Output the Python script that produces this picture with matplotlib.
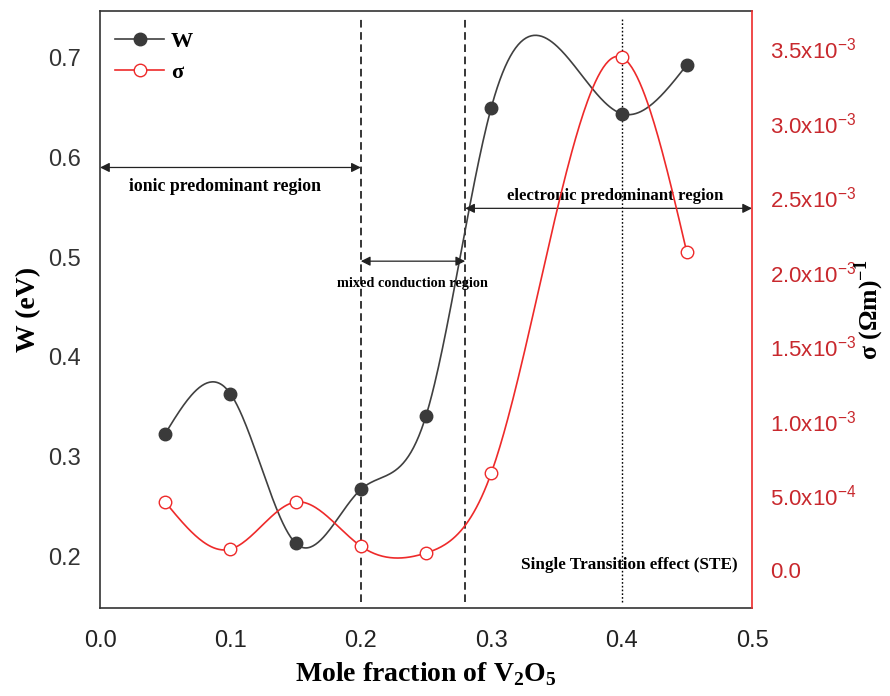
import numpy as np
import matplotlib
matplotlib.use("Agg")
import matplotlib.pyplot as plt

# ---- data ----
x_frac = [0.05, 0.10, 0.15, 0.20, 0.25, 0.30, 0.40, 0.45]
W_eV = [0.323, 0.363, 0.213, 0.267, 0.341, 0.650, 0.644, 0.693]
sigma = [0.456e-3, 0.140e-3, 0.456e-3, 0.160e-3, 0.114e-3, 0.650e-3, 3.44e-3, 2.13e-3]

x_ticks = [0.0, 0.1, 0.2, 0.3, 0.4, 0.5]
x_ticklabels = ["0.0", "0.1", "0.2", "0.3", "0.4", "0.5"]
w_ticks = [0.2, 0.3, 0.4, 0.5, 0.6, 0.7]
w_ticklabels = ["0.2", "0.3", "0.4", "0.5", "0.6", "0.7"]
s_ticks = [0.0, 0.5e-3, 1.0e-3, 1.5e-3, 2.0e-3, 2.5e-3, 3.0e-3, 3.5e-3]
s_ticklabels = ["0.0", "5.0x10$^{\\mathregular{-4}}$", "1.0x10$^{\\mathregular{-3}}$",
                "1.5x10$^{\\mathregular{-3}}$", "2.0x10$^{\\mathregular{-3}}$",
                "2.5x10$^{\\mathregular{-3}}$", "3.0x10$^{\\mathregular{-3}}$",
                "3.5x10$^{\\mathregular{-3}}$"]

region_bounds = [0.0, 0.2, 0.28, 0.5]
ste_x = 0.4


def natural_spline(x, y, n=400):
    x = np.asarray(x, float)
    y = np.asarray(y, float)
    m = len(x)
    h = np.diff(x)
    A = np.zeros((m, m))
    r = np.zeros(m)
    A[0, 0] = 1
    A[-1, -1] = 1
    for i in range(1, m - 1):
        A[i, i - 1] = h[i - 1]
        A[i, i] = 2 * (h[i - 1] + h[i])
        A[i, i + 1] = h[i]
        r[i] = 3 * ((y[i + 1] - y[i]) / h[i] - (y[i] - y[i - 1]) / h[i - 1])
    c = np.linalg.solve(A, r)
    b = (y[1:] - y[:-1]) / h - h * (2 * c[:-1] + c[1:]) / 3
    d = (c[1:] - c[:-1]) / (3 * h)
    xs = np.linspace(x[0], x[-1], n)
    idx = np.clip(np.searchsorted(x, xs) - 1, 0, m - 2)
    dx = xs - x[idx]
    ys = y[idx] + b[idx] * dx + c[idx] * dx ** 2 + d[idx] * dx ** 3
    return xs, ys


plt.rcParams['font.family'] = ['Liberation Sans', 'DejaVu Sans']
serif = ['Liberation Serif', 'DejaVu Serif']

fig = plt.figure(figsize=(8.9, 6.96), dpi=100)
ax = fig.add_axes([0.1124, 0.1264, 0.7326, 0.8578])
ax2 = ax.twinx()

gray = '#404040'
red = '#ee2a2a'
tick_red = '#c8282d'

# W curve
xs, ys = natural_spline(x_frac, W_eV)
ax.plot(xs, ys, color=gray, lw=1.2, zorder=3)
ax.plot(x_frac, W_eV, 'o', color='#3a3a3a', ms=9, zorder=4)

# sigma curve
xs2, ys2 = natural_spline(x_frac, sigma)
ax2.plot(xs2, ys2, color=red, lw=1.2, zorder=3)
ax2.plot(x_frac, sigma, 'o', mfc='white', mec=red, mew=1.0, ms=9, zorder=4)

ax.set_xlim(0, 0.5)
ax.set_ylim(0.148, 0.747)
ax2.set_ylim(-0.255e-3, 3.75e-3)

ax.set_xticks(x_ticks)
ax.set_xticklabels(x_ticklabels)
ax.set_yticks(w_ticks)
ax.set_yticklabels(w_ticklabels)
ax2.set_yticks(s_ticks)
ax2.set_yticklabels(s_ticklabels)

ax.tick_params(axis='x', length=0, pad=16, labelsize=17, labelcolor='#222222')
ax.tick_params(axis='y', length=0, pad=14, labelsize=17, labelcolor='#333333')
ax2.tick_params(axis='y', length=0, pad=13, labelsize=16, labelcolor=tick_red)

for s in ['left', 'bottom', 'top']:
    ax.spines[s].set_color('#333333')
    ax.spines[s].set_linewidth(1.2)
for s in ['left', 'bottom', 'top']:
    ax2.spines[s].set_visible(False)
ax2.spines['right'].set_color(red)
ax2.spines['right'].set_linewidth(1.2)
ax.spines['right'].set_visible(False)

ax.set_xlabel('Mole fraction of V$_\\mathregular{2}$O$_\\mathregular{5}$', family=serif,
              fontweight='bold', fontsize=20, labelpad=6)
ax.set_ylabel('W (eV)', family=serif, fontweight='bold', fontsize=20, labelpad=5)
ax2.set_ylabel('σ (Ωm)$^{\\mathregular{-1}}$', family=serif, fontweight='bold',
               fontsize=18.5, labelpad=-3)

# vertical region lines
ax.axvline(region_bounds[1], ymin=0.01, ymax=0.99, color='k', lw=1.1, ls=(0, (5, 3)), zorder=2)
ax.axvline(region_bounds[2], ymin=0.01, ymax=0.99, color='k', lw=1.1, ls=(0, (5, 3)), zorder=2)
ax.axvline(ste_x, ymin=0.01, ymax=0.99, color='k', lw=1.0, ls=(0, (1.2, 1.5)), zorder=2)

aprops = dict(arrowstyle='<|-|>', color='#222222', lw=0.9, shrinkA=0, shrinkB=0,
              mutation_scale=14)
ax.annotate('', xy=(region_bounds[0], 0.59), xytext=(region_bounds[1], 0.59),
            arrowprops=aprops, annotation_clip=False)
ax.annotate('', xy=(region_bounds[1], 0.496), xytext=(region_bounds[2], 0.496),
            arrowprops=aprops, annotation_clip=False)
ax.annotate('', xy=(region_bounds[2], 0.549), xytext=(region_bounds[3], 0.549),
            arrowprops=aprops, annotation_clip=False)

ax.text(0.0955, 0.571, 'ionic predominant region', family=serif, fontweight='bold',
        fontsize=12.8, ha='center', va='center', zorder=5)
ax.text(0.2395, 0.474, 'mixed conduction region', family=serif, fontweight='bold',
        fontsize=10.3, ha='center', va='center', zorder=5)
ax.text(0.395, 0.561, 'electronic predominant region', family=serif, fontweight='bold',
        fontsize=12.1, ha='center', va='center', zorder=5)
ax.text(0.406, 0.191, 'Single Transition effect (STE)', family=serif, fontweight='bold',
        fontsize=12.3, ha='center', va='center', zorder=5)

# legend
h1, = ax.plot([], [], '-o', color=gray, mfc='#3a3a3a', mec='#3a3a3a', ms=9, lw=1.2)
h2, = ax.plot([], [], '-o', color=red, mfc='white', mec=red, ms=9, lw=1.2)
leg = ax.legend([h1, h2], ['W', 'σ'], loc='upper left', frameon=False,
                prop={'family': serif, 'weight': 'bold', 'size': 16},
                handlelength=2.2, handletextpad=0.3, labelspacing=0.45,
                borderaxespad=0.2, bbox_to_anchor=(0.003, 0.988))

fig.savefig('out.png', dpi=100)
